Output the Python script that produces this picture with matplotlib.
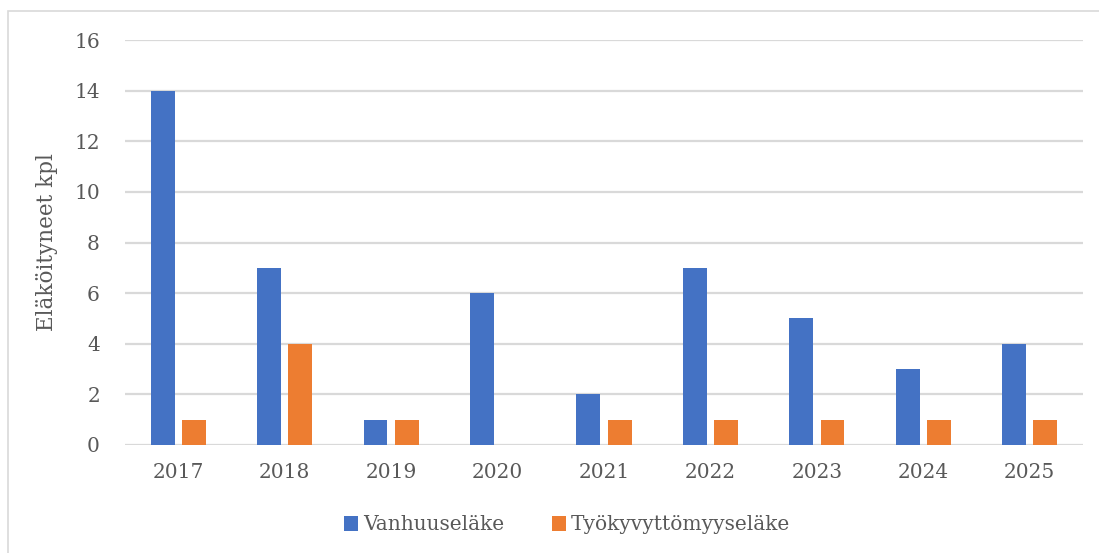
import matplotlib
matplotlib.use("Agg")
import matplotlib.pyplot as plt
import numpy as np
from matplotlib.patches import Rectangle

years = ["2017", "2018", "2019", "2020", "2021", "2022", "2023", "2024", "2025"]
vanhuus = [14, 7, 1, 6, 2, 7, 5, 3, 4]
tyokyvyttomyys = [1, 4, 1, 0, 1, 1, 1, 1, 1]
series_names = ["Vanhuuseläke", "Työkyvyttömyyseläke"]
ylabel = "Eläköityneet kpl"

plt.rcParams['font.family'] = ['DejaVu Serif']
txt = '#595959'

fig = plt.figure(figsize=(10.99, 5.53), dpi=100)
ax = fig.add_axes([125/1099, 1-445/553, (1083-125)/1099, (445-40)/553])

x = np.arange(len(years))
w = 0.225
off = 0.1465
ax.bar(x - off, vanhuus, w, color='#4472C4', label=series_names[0], zorder=3)
ax.bar(x + off, tyokyvyttomyys, w, color='#ED7D31', label=series_names[1], zorder=3)

ax.set_xlim(-0.5, len(years) - 0.5)
ax.set_ylim(0, 16)
ax.set_yticks(range(0, 17, 2))
ax.set_xticks(x)
ax.set_xticklabels(years)
ax.yaxis.grid(True, color='#d9d9d9', linewidth=1.6, zorder=0)
ax.set_axisbelow(True)
for s in ax.spines.values():
    s.set_visible(False)
ax.tick_params(axis='both', length=0, labelsize=14.5, colors=txt)
ax.tick_params(axis='y', pad=18)
ax.tick_params(axis='x', pad=13)
ax.set_ylabel(ylabel, fontsize=15.5, color=txt, labelpad=12)

fig.legend(loc='center', bbox_to_anchor=(567/1099, 1-525/553), ncol=2, frameon=False,
           fontsize=14.5, handlelength=0.7, handleheight=0.7, handletextpad=0.25,
           columnspacing=2.4, labelcolor=txt)

fig.patches.append(Rectangle((8/1099, -0.1), 1.2, 1.1-11/553, transform=fig.transFigure,
                             fill=False, edgecolor='#d9d9d9', linewidth=1.2))

fig.savefig("out.png", dpi=100)
